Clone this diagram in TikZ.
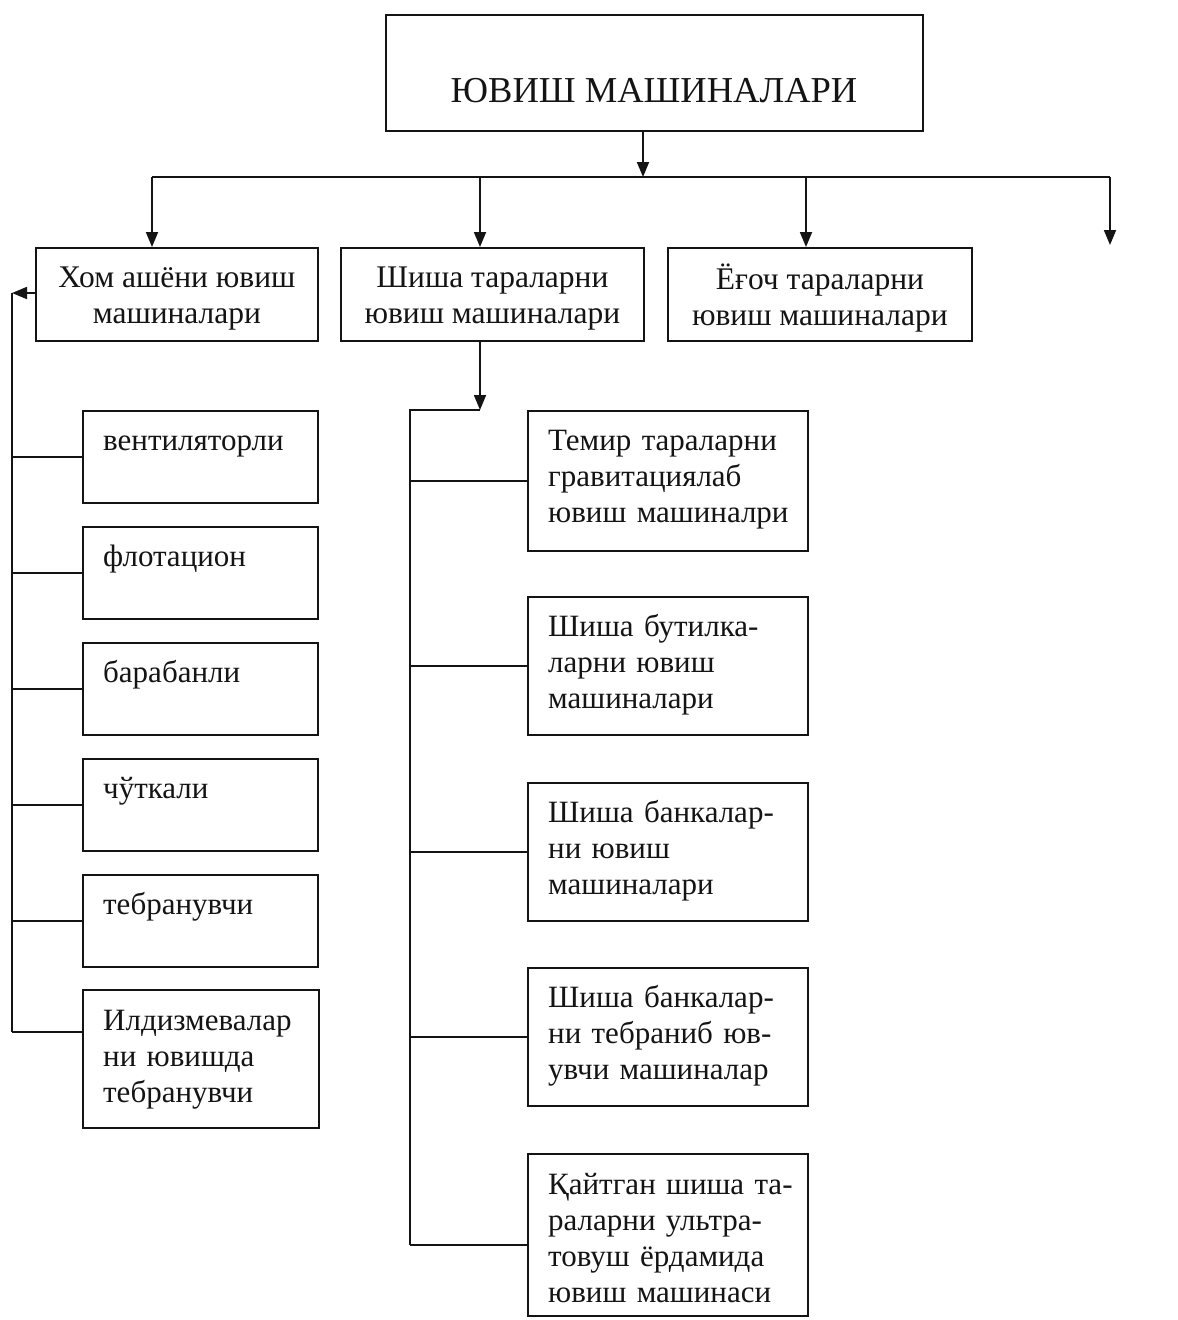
\documentclass[tikz,border=0pt]{standalone}
\usepackage{fontspec}
\setmainfont{Liberation Serif}
\usetikzlibrary{arrows.meta,calc}

\begin{document}
\begin{tikzpicture}[x=1pt,y=-1pt,
  box/.style={draw=ink, line width=1.8pt, inner sep=0pt, anchor=north west},
  rowbox/.style={box, align=center, font=\fontsize{31.5}{36}\selectfont, text=ink},
  lbl/.style={anchor=base west, inner sep=0pt, text width=250pt, align=left,
              font=\fontsize{31}{36}\selectfont, text=ink},
  link/.style={draw=ink, line width=1.8pt},
  arr/.style={link, -{Triangle[length=15pt,width=12pt]}}]
\definecolor{ink}{HTML}{141414}
\useasboundingbox[fill=white] (0,0) rectangle (1178,1320);

% main box
\node[box, minimum width=537pt, minimum height=116pt] (main) at (385,14) {};
\node[anchor=base, inner sep=0pt, font=\fontsize{36.5}{40}\selectfont, text=ink]
  (mainlbl) at (654,102) {ЮВИШ МАШИНАЛАРИ};

% first level
\node[rowbox, minimum width=282pt, minimum height=93pt] (raw) at (35,247) {};
\node[rowbox, minimum width=303pt, minimum height=93pt] (glass) at (340,247) {};
\node[rowbox, minimum width=304pt, minimum height=93pt] (wood) at (667,247) {};
\node[rowbox, draw=none, anchor=center] (rawlbl)   at ([yshift=-4pt]raw.center)   {Хом ашёни ювиш\\машиналари};
\node[rowbox, draw=none, anchor=center] (glasslbl) at ([yshift=-4pt]glass.center) {Шиша тараларни\\ювиш машиналари};
\node[rowbox, draw=none, anchor=center] (woodlbl)  at ([yshift=-4pt]wood.center)  {Ёғоч тараларни\\ювиш машиналари};

% raw material washers
\node[box, minimum width=235pt, minimum height=92pt]  (l1) at (82,410) {};
\node[box, minimum width=235pt, minimum height=92pt]  (l2) at (82,526) {};
\node[box, minimum width=235pt, minimum height=92pt]  (l3) at (82,642) {};
\node[box, minimum width=235pt, minimum height=92pt]  (l4) at (82,758) {};
\node[box, minimum width=235pt, minimum height=92pt]  (l5) at (82,874) {};
\node[box, minimum width=236pt, minimum height=138pt] (l6) at (82,989) {};
\node[lbl] (t1) at (103,450)  {вентиляторли};
\node[lbl] (t2) at (103,566)  {флотацион};
\node[lbl] (t3) at (103,682)  {барабанли};
\node[lbl] (t4) at (103,798)  {чўткали};
\node[lbl] (t5) at (103,914)  {тебранувчи};
\node[lbl] (t6) at (103,1030) {Илдизмевалар\\ни ювишда\\тебранувчи};

% glass container washers
\node[box, minimum width=280pt, minimum height=140pt] (r1) at (527,410)  {};
\node[box, minimum width=280pt, minimum height=138pt] (r2) at (527,596)  {};
\node[box, minimum width=280pt, minimum height=138pt] (r3) at (527,782)  {};
\node[box, minimum width=280pt, minimum height=138pt] (r4) at (527,967)  {};
\node[box, minimum width=280pt, minimum height=162pt] (r5) at (527,1153) {};
\node[lbl] (s1) at (548,450)  {Темир тараларни\\гравитациялаб\\ювиш машиналри};
\node[lbl] (s2) at (548,636)  {Шиша бутилка-\\ларни ювиш\\машиналари};
\node[lbl] (s3) at (548,822)  {Шиша банкалар-\\ни ювиш\\машиналари};
\node[lbl] (s4) at (548,1007) {Шиша банкалар-\\ни тебраниб юв-\\увчи машиналар};
\node[lbl] (s5) at (548,1194) {Қайтган шиша та-\\раларни ультра-\\товуш ёрдамида\\ювиш машинаси};

% distribution bus under the main box
\coordinate (bus)  at (643,177);
\coordinate (busL) at (152,177);
\coordinate (busR) at (1110,177);
\coordinate (dropB) at (480,177);
\coordinate (dropC) at (806,177);
\coordinate (free)  at (1110,245);
\draw[arr] (main.south -| bus) -- (bus);
\draw[link] (busL) -- (busR);
\draw[arr] (busL)  -- (raw.north -| busL);
\draw[arr] (dropB) -- (glass.north -| dropB);
\draw[arr] (dropC) -- (wood.north -| dropC);
\draw[arr] (busR)  -- (free);

% left spine
\coordinate (fb)   at (12,293);
\coordinate (fbE)  at (12,1032);
\draw[arr] (raw.west |- fb) -- (fb);
\draw[link] (fb) -- (fbE);
\draw[link] (fb |- l1.west) -- (l1.west);
\draw[link] (fb |- l2.west) -- (l2.west);
\draw[link] (fb |- l3.west) -- (l3.west);
\draw[link] (fb |- l4.west) -- (l4.west);
\draw[link] (fb |- l5.west) -- (l5.west);
\draw[link] (fbE) -- (fbE -| l6.west);

% middle spine
\coordinate (mid)  at (480,410);
\coordinate (spT)  at (410,410);
\coordinate (spE)  at (410,1245);
\draw[arr] (glass.south -| mid) -- (mid);
\draw[link] (mid) -- (spT) -- (spE);
\draw[link] (spT |- r1.west) -- (r1.west);
\draw[link] (spT |- r2.west) -- (r2.west);
\draw[link] (spT |- r3.west) -- (r3.west);
\draw[link] (spT |- r4.west) -- (r4.west);
\draw[link] (spE) -- (spE -| r5.west);
\end{tikzpicture}
\end{document}
